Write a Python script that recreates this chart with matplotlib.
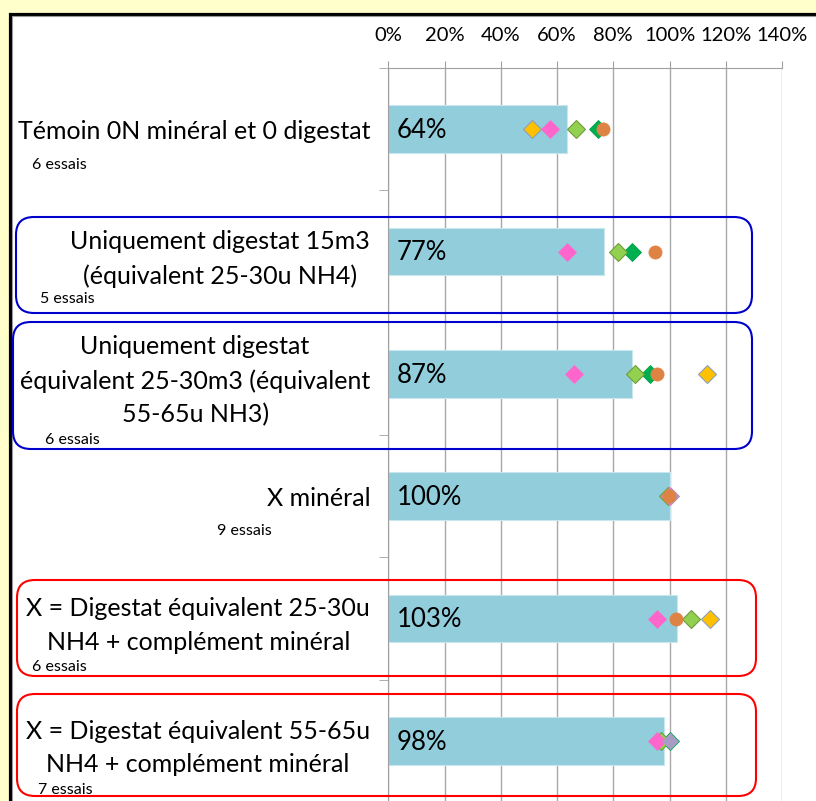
import numpy as np
import matplotlib
matplotlib.use("Agg")
from matplotlib import pyplot as plt
from matplotlib.patches import FancyBboxPatch, Rectangle

plt.rcParams['font.family'] = ['Lato', 'DejaVu Sans']

# Categories (top to bottom)
categories = [
    "Témoin 0N minéral et 0 digestat",
    "Uniquement digestat 15m3\n(équivalent 25-30u NH4)",
    "Uniquement digestat\néquivalent 25-30m3 (équivalent\n55-65u NH3)",
    "X minéral",
    "X = Digestat équivalent 25-30u\nNH4 + complément minéral",
    "X = Digestat équivalent 55-65u\nNH4 + complément minéral",
]
n_essais = [6, 5, 6, 9, 6, 7]

# Mean relative yield (bars), in %
means = [63.6, 76.8, 86.8, 100.0, 102.6, 97.9]

# Individual trial results (markers), in %
nan = np.nan
essai_jaune = [51.0, nan, 113.4, nan, 114.3, nan]
essai_vert_fonce = [74.6, 86.8, 93.0, nan, nan, 100.3]
essai_vert_clair = [66.7, 81.7, 87.7, 99.6, 107.6, 97.0]
essai_rose = [57.5, 63.4, 66.1, 100.2, 95.7, 95.4]
essai_violet = [nan, nan, nan, 100.4, nan, 100.0]
essai_orange = [76.4, 95.0, 95.4, 99.8, 102.2, nan]

x_ticks = [0, 20, 40, 60, 80, 100, 120, 140]

W, H = 816, 801
fig = plt.figure(figsize=(W / 100, H / 100), dpi=100)
fig.patch.set_facecolor("#FFFFCC")

# white sheet with black frame (runs off the right and bottom edges)
fig.patches.append(Rectangle((9.5 / W, -0.05), 1.2, 1 - 13.5 / H + 0.05,
                             transform=fig.transFigure, facecolor="white",
                             edgecolor="black", linewidth=2.3, zorder=-10))
fig.patches.append(Rectangle((11.5 / W, -0.05), 1.2, 1 - 15.5 / H + 0.05,
                             transform=fig.transFigure, facecolor="none",
                             edgecolor="#999999", linewidth=0.8, zorder=-9))

ax = fig.add_axes([388.3 / W, 1 - 802 / H, (782 - 388.3) / W, (802 - 68) / H])
ax.set_facecolor("none")

y = np.arange(len(categories))
ax.barh(y, means, height=0.39, color="#92CDDC", edgecolor="#C8E6EE",
        linewidth=0.8, zorder=2)

for yi, m in zip(y, means):
    ax.text(3.0, yi + 0.01, f"{m:.0f}%", ha="left", va="center", fontsize=18.5,
            color="black", zorder=5)

ms = 9.5
ax.plot(essai_jaune, y, "D", ms=ms, color="#FFC000", mec="#8EA0B8", mew=0.8, ls="none", zorder=3)
ax.plot(essai_vert_fonce, y, "D", ms=ms, color="#00B050", mec="#00A048", mew=0.6, ls="none", zorder=3)
ax.plot(essai_vert_clair, y, "D", ms=ms, color="#92D050", mec="#6F9A3C", mew=0.8, ls="none", zorder=4)
ax.plot(essai_rose, y, "D", ms=ms, color="#FF66CC", mec="#FF66CC", mew=0.5, ls="none", zorder=4)
ax.plot(essai_violet, y, "D", ms=ms - 1, color="#A69CC6", mec="#A69CC6", mew=0.5, ls="none", zorder=4)
ax.plot(essai_orange, y, "o", ms=9.5, color="#DF8344", mec="#DF8344", mew=0.5, ls="none", zorder=5)

ax.set_xlim(0, 140)
ax.set_ylim(len(categories) - 0.5, -0.5)

ax.set_xticks(x_ticks)
ax.set_xticklabels([f"{t}%" for t in x_ticks], fontsize=14.5)
ax.xaxis.tick_top()
ax.tick_params(axis="x", which="major", direction="out", length=5, color="#A0A0A0",
               pad=12)
ax.grid(axis="x", color="#A8A8A8", linewidth=1.0, zorder=0)
ax.set_axisbelow(True)

ax.set_yticks(y)
ax.set_yticklabels(categories, fontsize=18, multialignment="center", linespacing=1.55)
ax.set_yticks(np.arange(-0.5, len(categories), 1.0), minor=True)
ax.tick_params(axis="y", which="major", length=0, pad=13)
ax.tick_params(axis="y", which="minor", direction="out", length=6.5, color="#A0A0A0")

for side in ["right", "bottom"]:
    ax.spines[side].set_visible(False)
ax.spines["top"].set_color("#A0A0A0")
ax.spines["left"].set_color("#A0A0A0")

# number of trials under each label (pixel positions of the original)
essai_pos = [(32, 165), (40, 299), (45, 440), (217, 531), (32, 667), (38, 790)]
for n, (px, py) in zip(n_essais, essai_pos):
    fig.text(px / W, 1 - py / H, f"{n} essais", ha="left", va="center", fontsize=11.5)

# rounded frames around the digestate rows
boxes = [
    ((16, 217, 752, 313), "#0000CC"),
    ((13, 322, 752, 449), "#0000CC"),
    ((17, 580, 756, 676), "#FF0000"),
    ((17, 694, 756, 796), "#FF0000"),
]
for (x0, y0, x1, y1), col in boxes:
    fig.patches.append(FancyBboxPatch((x0 / W, 1 - y1 / H), (x1 - x0) / W, (y1 - y0) / H,
                                      boxstyle="round,pad=0,rounding_size=0.022",
                                      transform=fig.transFigure, facecolor="none",
                                      edgecolor=col, linewidth=1.5, zorder=6))

fig.savefig("out.png", dpi=100, facecolor=fig.get_facecolor())
